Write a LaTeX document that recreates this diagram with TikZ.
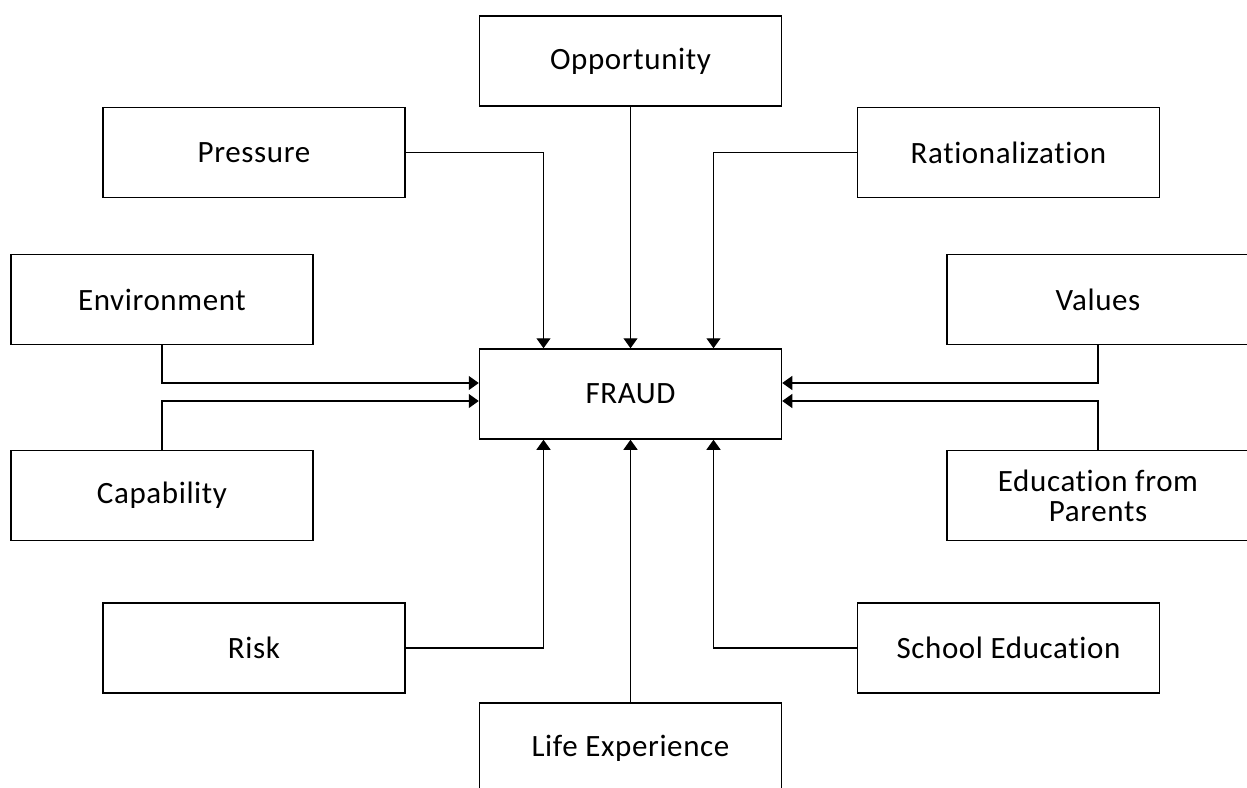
\documentclass[tikz,border=0pt]{standalone}
\usepackage{fontspec}
\setmainfont[Ligatures=NoCommon,LetterSpace=2]{Carlito}
\usepackage{tikz}
\usetikzlibrary{arrows.meta}

\tikzset{factor/.style={draw, line width=1.5pt, minimum width=302pt, minimum height=90pt,
  inner sep=0pt, align=center, font=\fontsize{31}{30}\selectfont}}
\tikzset{link/.style={line width=1.2pt, -{Triangle[width=14pt,length=10pt]}}}

\begin{document}
\begin{tikzpicture}[x=1pt,y=-1pt]
\useasboundingbox (0,0) rectangle (1247,787);
\clip (0,0) rectangle (1247,787);

\node [factor] (fraud)  at (630.5,394)   {FRAUD};
\node [factor] (opp)    at (630.5,61)    {Opportunity};
\node [factor] (press)  at (254,152.5)   {Pressure};
\node [factor] (rat)    at (1008.5,152.5){Rationalization};
\node [factor] (env)    at (162,299.5)   {Environment};
\node [factor] (cap)    at (162,495.5)   {Capability};
\node [factor] (val)    at (1098,299.5)  {Values};
\node [factor] (edu)    at (1098,495.5)  {Education from\\Parents};
\node [factor] (risk)   at (254,648)     {Risk};
\node [factor] (school) at (1008.5,648)  {School Education};
\node [factor] (life)   at (630.5,748)   {Life Experience};

% from above
\draw [link] (press.east) -| ([xshift=-87pt]fraud.north);
\draw [link] (opp) -- (fraud);
\draw [link] (rat.west) -| ([xshift=83pt]fraud.north);
% from the sides
\draw [link] (env.south) |- ([yshift=11pt]fraud.west);
\draw [link] (cap.north) |- ([yshift=-7pt]fraud.west);
\draw [link] (val.south) |- ([yshift=11pt]fraud.east);
\draw [link] (edu.north) |- ([yshift=-7pt]fraud.east);
% from below
\draw [link] (risk.east) -| ([xshift=-87pt]fraud.south);
\draw [link] (life) -- (fraud);
\draw [link] (school.west) -| ([xshift=83pt]fraud.south);
\end{tikzpicture}
\end{document}
